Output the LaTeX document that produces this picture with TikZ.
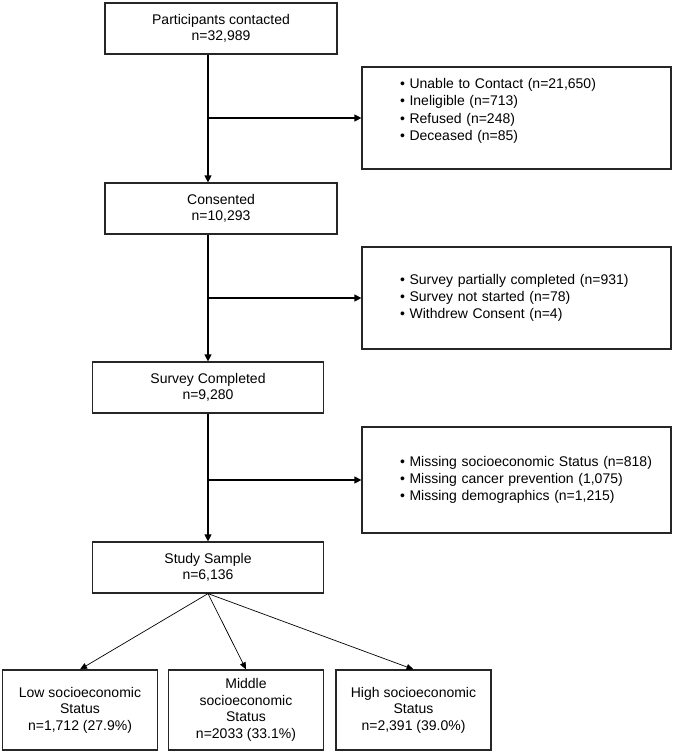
\documentclass[tikz,border=0pt]{standalone}
\usepackage{fontspec}
\setmainfont{Liberation Sans}
\usetikzlibrary{arrows.meta, positioning}

\begin{document}
\begin{tikzpicture}[
  x=1pt, y=-1pt,
  font=\fontsize{14}{16.5}\selectfont,
  box/.style={rectangle, draw=black!85, line width=1.2pt, align=center, inner sep=3pt},
  stage/.style={box, minimum width=232pt, minimum height=51pt},
  excl/.style={box, text width=233pt, inner xsep=38pt, align=left,
               font=\fontsize{14}{17.2}\selectfont},
  group/.style={box, minimum width=155pt, minimum height=80pt},
  arr/.style={-{Triangle[length=7pt, width=7pt]}, line width=1.2pt, draw=black},
  split/.style={-{Triangle[length=7pt, width=6pt]}, line width=0.7pt, draw=black}
]
\useasboundingbox (0,0) rectangle (673,753);

\node[stage] (contact) at (221,28.5) {Participants contacted\\n=32,989};
\node[stage] (consent) at (221,208.5) {Consented\\n=10,293};
\node[stage, minimum width=231pt] (survey) at (208,387.5) {Survey Completed\\n=9,280};
\node[stage, minimum width=231pt] (sample) at (208,567.5) {Study Sample\\n=6,136};

\node[excl, minimum height=102pt] (lost1) at (516.5,118) {%
  \mbox{\textbullet\ Unable to Contact (n=21,650)}\\
  \mbox{\textbullet\ Ineligible (n=713)}\\
  \mbox{\textbullet\ Refused (n=248)}\\
  \mbox{\textbullet\ Deceased (n=85)}\\
  \mbox{}};
\node[excl, minimum height=102pt] (lost2) at (516.5,298) {%
  \mbox{\textbullet\ Survey partially completed (n=931)}\\
  \mbox{\textbullet\ Survey not started (n=78)}\\
  \mbox{\textbullet\ Withdrew Consent (n=4)}};
\node[excl, minimum height=106pt] (lost3) at (516.5,480) {%
  \mbox{\textbullet\ Missing socioeconomic Status (n=818)}\\
  \mbox{\textbullet\ Missing cancer prevention (1,075)}\\
  \mbox{\textbullet\ Missing demographics (n=1,215)}};

\node[group] (low) at (80,710) {Low socioeconomic\\Status\\n=1,712 (27.9\%)};
\node[group] (mid) at (246,710) {Middle\\socioeconomic\\Status\\n=2033 (33.1\%)};
\node[group] (high) at (413.5,710) {High socioeconomic\\Status\\n=2,391 (39.0\%)};

\draw[arr] (contact.south -| survey.north) -- (consent.north -| survey.north);
\draw[arr] (consent.south -| survey.north) -- (survey.north);
\draw[arr] (survey.south) -- (sample.north);

% exclusions branch off the trunk
\draw[arr] (lost1.west -| survey.north) -- (lost1.west);
\draw[arr] (lost2.west -| survey.north) -- (lost2.west);
\draw[arr] (lost3.west -| survey.north) -- (lost3.west);

\draw[split] (sample.south) -- (low.north);
\draw[split] (sample.south) -- (mid.north);
\draw[split] (sample.south) -- (high.north);
\end{tikzpicture}
\end{document}
